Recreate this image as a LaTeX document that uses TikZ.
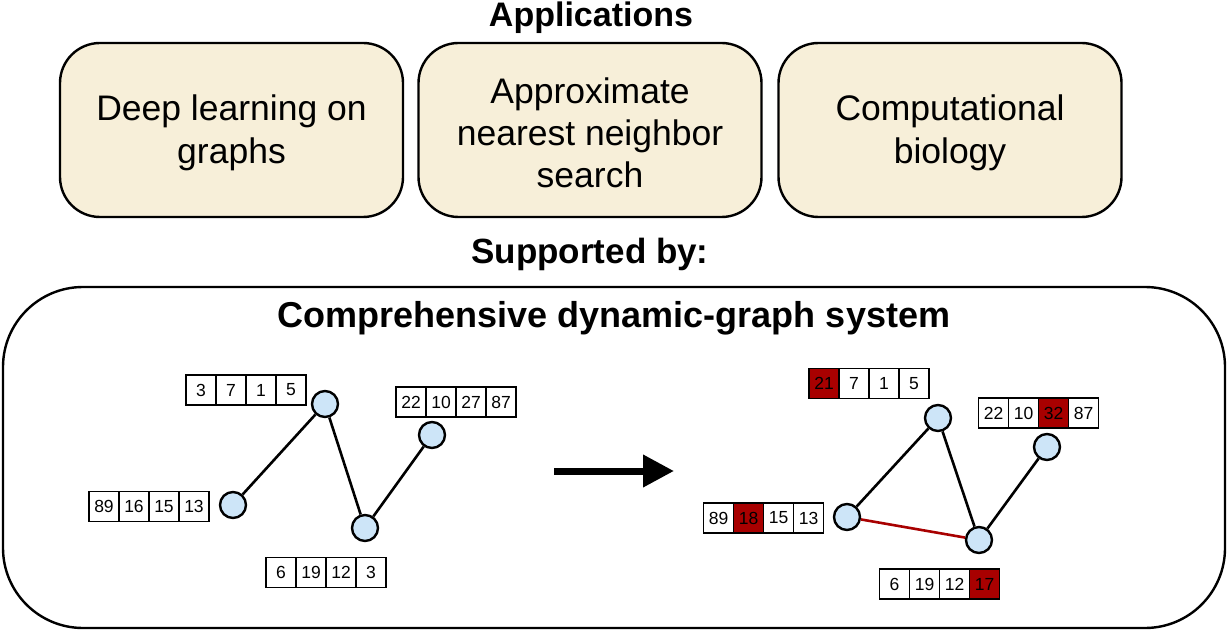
\documentclass[tikz,border=0pt]{standalone}
\usepackage{fontspec}
\setmainfont{Liberation Sans}
\usetikzlibrary{arrows.meta}
\definecolor{cream}{HTML}{F7EFD9}
\definecolor{nodeblue}{HTML}{CDE5F8}
\definecolor{hotred}{HTML}{A80000}
\tikzset{
  appbox/.style={draw, line width=2.4pt, fill=cream, rounded corners=40pt,
    minimum width=343pt, minimum height=174pt, align=center,
    font=\fontsize{35.5}{42.5}\selectfont},
  title/.style={font=\bfseries\fontsize{35}{40}\selectfont},
  sysbox/.style={draw, line width=2.4pt, rounded corners=80pt,
    minimum width=1222pt, minimum height=341pt},
  cellbox/.style={draw, line width=1.4pt, minimum width=30pt, minimum height=30pt,
    inner sep=0pt, outer sep=0pt, font=\fontsize{17.5}{17.5}\selectfont},
  hot/.style={fill=hotred},
  plain/.style={},
  vtx/.style={circle, draw, line width=2.4pt, fill=nodeblue, minimum size=26pt, inner sep=0pt},
  edge/.style={line width=2.6pt},
  newedge/.style={line width=2.6pt, draw=hotred},
}
\newcommand\cellrow[4]{%
  \foreach \v/\s [count=\i] in {#4}{
    \node[cellbox,\s] (#1-\i) at ({#2+(\i-0.5)*30},#3) {\v};
  }%
}
\begin{document}
\begin{tikzpicture}[x=1pt,y=-1pt]
\useasboundingbox (0,0) rectangle (1228,631);

\node[title, font=\bfseries\fontsize{34}{40}\selectfont] (apps) at (591,18) {Applications};
\node[appbox] (dl) at (231.5,130) {};
\node[align=center, font=\fontsize{35.5}{42.5}\selectfont] (dlt) at (231.5,133) {Deep learning on\\graphs};
\node[appbox] (ann) at (590,130) {};
\node[align=center, font=\fontsize{35.5}{42}\selectfont] (annt) at (590,133) {Approximate\\nearest neighbor\\search};
\node[appbox] (bio) at (950,130) {};
\node[align=center, font=\fontsize{35.5}{42.5}\selectfont] (biot) at (950,133) {Computational\\biology};

\node[title] (sup) at (590,254) {Supported by:};
\node[sysbox] (sys) at (614,457.5) {};
\node[title, font=\bfseries\fontsize{36}{40}\selectfont] (sysname) at (614,318) {Comprehensive dynamic-graph system};

% left graph
\node[vtx] (la) at (325,404) {};
\node[vtx] (lb) at (233,505) {};
\node[vtx] (lc) at (365,528) {};
\node[vtx] (ld) at (432,435) {};
\draw[edge] (la) -- (lb);
\draw[edge] (la) -- (lc);
\draw[edge] (lc) -- (ld);
\cellrow{l1}{186}{390}{3/plain,7/plain,1/plain,5/plain}
\cellrow{l2}{89}{506.5}{89/plain,16/plain,15/plain,13/plain}
\cellrow{l3}{266}{572.5}{6/plain,19/plain,12/plain,3/plain}
\cellrow{l4}{396}{402}{22/plain,10/plain,27/plain,87/plain}

% arrow
\coordinate (arrs) at (554,471);
\coordinate (arre) at (674,471);
\draw[line width=7pt, -{Triangle[length=31pt,width=31pt]}] (arrs) -- (arre);

% right graph
\node[vtx] (ra) at (938,418) {};
\node[vtx] (rb) at (847,517) {};
\node[vtx] (rc) at (979,540) {};
\node[vtx] (rd) at (1047,447) {};
\draw[edge] (ra) -- (rb);
\draw[edge] (ra) -- (rc);
\draw[edge] (rc) -- (rd);
\draw[newedge] (rb) -- (rc);
\cellrow{r1}{809}{383.5}{21/hot,7/plain,1/plain,5/plain}
\cellrow{r2}{978.5}{413}{22/plain,10/plain,32/hot,87/plain}
\cellrow{r3}{703.5}{518}{89/plain,18/hot,15/plain,13/plain}
\cellrow{r4}{879.5}{584}{6/plain,19/plain,12/plain,17/hot}
\end{tikzpicture}
\end{document}
